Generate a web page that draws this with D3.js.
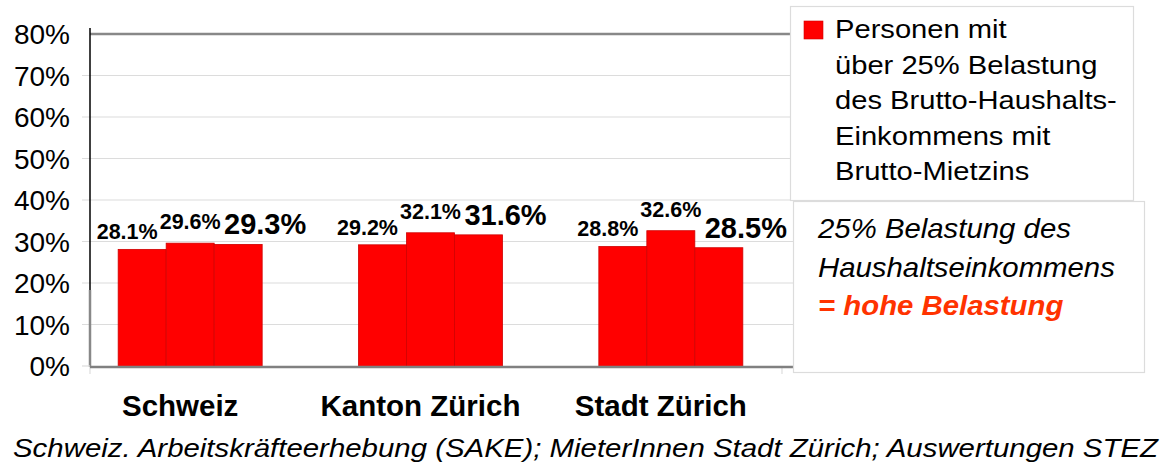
<!DOCTYPE html>
<html><head><meta charset="utf-8">
<script src="https://cdn.jsdelivr.net/npm/d3@7"></script>
<style>body{margin:0;background:#fff}svg{display:block;font-family:"Liberation Sans",Arial,sans-serif}</style>
</head><body><svg id="c" width="1168" height="469"></svg>
<script>
const categories = ["Schweiz", "Kanton Zürich", "Stadt Zürich"];
const seriesIndex = [0, 1, 2];
const values = [
  [0.281, 0.296, 0.293],
  [0.292, 0.321, 0.316],
  [0.288, 0.326, 0.285]
];
const tickValues = [0, 0.1, 0.2, 0.3, 0.4, 0.5, 0.6, 0.7, 0.8];
const legendLines = ["Personen mit", "über 25% Belastung", "des Brutto-Haushalts-", "Einkommens mit", "Brutto-Mietzins"];
const noteLines = ["25% Belastung des", "Haushaltseinkommens"];
const noteHighlight = "= hohe Belastung";
const sourceText = "Schweiz. Arbeitskräfteerhebung (SAKE); MieterInnen Stadt Zürich; Auswertungen STEZ";

const svg = d3.select("#c");
const y = d3.scaleLinear().domain([0, 0.8]).range([366, 34]);
const x = d3.scaleBand().domain(categories).range([70, 791]).padding(0);
const xi = d3.scaleBand().domain(seriesIndex).range([-72, 72]).padding(0);
const plotL = 90, plotR = 793;

// gridlines
svg.append("g").selectAll("line").data(tickValues.filter(v => v > 0 && v < 0.8)).join("line")
  .attr("x1", 82).attr("x2", plotR).attr("y1", d => y(d)).attr("y2", d => y(d))
  .attr("stroke", "#dcdcdc").attr("stroke-width", 1.2);

// y axis labels
const yAxis = d3.axisLeft(y).tickValues(tickValues).tickFormat(d3.format(".0%")).tickSize(0).tickPadding(20);
const ya = svg.append("g").attr("transform", `translate(${plotL},0)`).call(yAxis);
ya.select(".domain").remove();
ya.selectAll("text").attr("font-size", 28).attr("fill", "#000").attr("font-family", "Liberation Sans, Arial, sans-serif").attr("dy", "0.35em");

// top line at 80%
svg.append("line").attr("x1", plotL).attr("x2", plotR).attr("y1", y(0.8)).attr("y2", y(0.8))
  .attr("stroke", "#888").attr("stroke-width", 2.5);

// bars
const groups = svg.append("g").selectAll("g").data(categories).join("g")
  .attr("transform", d => `translate(${x(d) + x.bandwidth() / 2},0)`);
groups.selectAll("rect").data((d, i) => values[i].map((v, s) => ({v, s}))).join("rect")
  .attr("x", d => xi(d.s)).attr("width", xi.bandwidth())
  .attr("y", d => y(d.v)).attr("height", d => y(0) - y(d.v) + 1)
  .attr("fill", "#ff0000").attr("stroke", "#d00000").attr("stroke-width", 0.8);

// value labels
const labelDx = [-15, 0, 27], labelDy = [-10, -14, -10], labelSize = [21.5, 21.5, 29];
groups.selectAll("text.v").data((d, i) => values[i].map((v, s) => ({v, s}))).join("text")
  .attr("class", "v")
  .attr("x", d => xi(d.s) + xi.bandwidth() / 2 + labelDx[d.s])
  .attr("y", d => y(d.v) + labelDy[d.s])
  .attr("text-anchor", "middle").attr("font-weight", "bold")
  .attr("font-size", d => labelSize[d.s]).attr("fill", "#000")
  .text(d => d3.format(".1%")(d.v));

// axes lines
svg.append("line").attr("x1", plotL).attr("x2", plotL).attr("y1", 28).attr("y2", 290)
  .attr("stroke", "#000").attr("stroke-width", 1.5);
svg.append("line").attr("x1", plotL).attr("x2", plotL).attr("y1", 290).attr("y2", 367)
  .attr("stroke", "#888").attr("stroke-width", 2.5);
svg.append("line").attr("x1", 82).attr("x2", plotL).attr("y1", y(0)).attr("y2", y(0))
  .attr("stroke", "#ddd").attr("stroke-width", 1.2);
svg.append("line").attr("x1", plotL).attr("x2", plotL).attr("y1", 367).attr("y2", 374)
  .attr("stroke", "#ddd").attr("stroke-width", 1.2);
svg.append("line").attr("x1", 782).attr("x2", 782).attr("y1", 367).attr("y2", 374)
  .attr("stroke", "#ddd").attr("stroke-width", 1.2);
svg.append("line").attr("x1", plotL).attr("x2", plotR).attr("y1", y(0) + 1).attr("y2", y(0) + 1)
  .attr("stroke", "#808080").attr("stroke-width", 2.5);

// category labels
const xAxis = d3.axisBottom(x).tickSize(0).tickPadding(0);
const xa = svg.append("g").attr("transform", "translate(-10,0)").call(xAxis);
xa.select(".domain").remove();
xa.selectAll("text").attr("y", 416).attr("dy", 0).attr("font-size", 29.5).attr("font-weight", "bold")
  .attr("fill", "#000").attr("font-family", "Liberation Sans, Arial, sans-serif");

// legend box
svg.append("rect").attr("x", 790.5).attr("y", 6.5).attr("width", 343).attr("height", 194)
  .attr("fill", "#fff").attr("stroke", "#dcdcdc").attr("stroke-width", 1.2);
svg.append("rect").attr("x", 804).attr("y", 21).attr("width", 19).attr("height", 18)
  .attr("fill", "#ff0000").attr("stroke", "#d00000").attr("stroke-width", 0.6);
svg.append("g").selectAll("text").data(legendLines).join("text")
  .attr("transform", (d, i) => `translate(835,${38 + i * 35.6}) scale(1.1,1)`)
  .attr("font-size", 26.5).attr("fill", "#000").text(d => d);

// note box
svg.append("rect").attr("x", 793.5).attr("y", 201.5).attr("width", 351).attr("height", 171)
  .attr("fill", "#fff").attr("stroke", "#dcdcdc").attr("stroke-width", 1.2);
svg.append("g").selectAll("text").data(noteLines).join("text")
  .attr("transform", (d, i) => `translate(818,${238 + i * 38.5}) scale(1.03,1)`)
  .attr("font-size", 28.5).attr("font-style", "italic").attr("fill", "#000").text(d => d);
svg.append("text").attr("transform", `translate(818,${238 + 2 * 38.5}) scale(1.03,1)`)
  .attr("font-size", 28.5).attr("font-style", "italic").attr("font-weight", "bold")
  .attr("fill", "#ff3300").text(noteHighlight);

// source
svg.append("text").attr("x", 13).attr("y", 457).attr("font-size", 26.5).attr("font-style", "italic")
  .attr("textLength", 1145).attr("lengthAdjust", "spacingAndGlyphs")
  .attr("fill", "#000").text(sourceText);
</script></body></html>
